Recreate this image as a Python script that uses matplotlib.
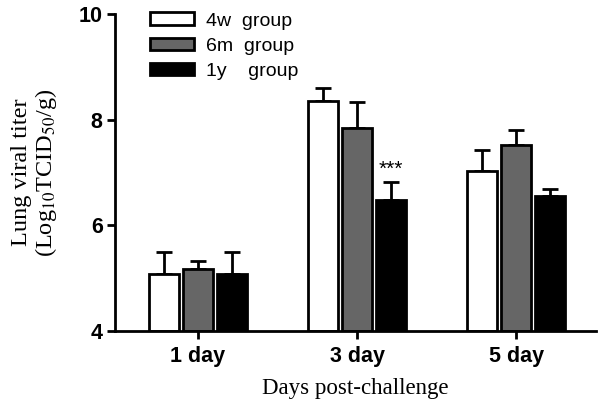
import numpy as np
import matplotlib.pyplot as plt

days = ["1 day", "3 day", "5 day"]
groups = ["4w  group", "6m  group", "1y    group"]
colors = ["white", "#666666", "black"]
means = [
    [5.08, 8.36, 7.03],
    [5.17, 7.84, 7.52],
    [5.08, 6.48, 6.56],
]
errs = [
    [0.42, 0.24, 0.40],
    [0.15, 0.50, 0.29],
    [0.42, 0.34, 0.13],
]

plt.rcParams['font.family'] = ['Liberation Sans', 'DejaVu Sans']

fig = plt.figure(figsize=(6, 4.12), dpi=100)
ax = fig.add_axes([0.192, 0.197, 0.801, 0.769])

x = np.arange(len(days))
width = 0.19
step = 0.214
for i in range(len(groups)):
    pos = x + (i - 1) * step
    ax.bar(pos, np.array(means[i]) - 4, width, bottom=4, color=colors[i],
           edgecolor="black", linewidth=2.0, label=groups[i], zorder=2)
    ax.errorbar(pos, means[i], yerr=[np.zeros(3), errs[i]], fmt="none",
                ecolor="black", elinewidth=2.0, capsize=6, capthick=2.0, zorder=1)

ax.text(x[1] + step, means[2][1] + errs[2][1] + 0.06, "***", ha="center",
        va="bottom", fontsize=15)

ax.set_xlim(-0.52, 2.50)
ax.set_ylim(4, 10)
ax.set_yticks([4, 6, 8, 10])
ax.set_xticks(x)
ax.set_xticklabels(days)
for lab in ax.get_xticklabels() + ax.get_yticklabels():
    lab.set_fontweight("bold")
    lab.set_fontsize(15.5)
ax.tick_params(width=2.0, length=6, pad=3)
ax.tick_params(axis="x", pad=5)
for s in ["top", "right"]:
    ax.spines[s].set_visible(False)
for s in ["left", "bottom"]:
    ax.spines[s].set_linewidth(2.0)

ax.set_ylabel("Lung viral titer\n(Log$_{10}$TCID$_{50}$/g)", family="Liberation Serif",
              fontsize=17.5, math_fontfamily="stix", labelpad=14, linespacing=1.05)
ax.set_xlabel("Days post-challenge", family="Liberation Serif", fontsize=16.5, labelpad=8)

ax.legend(loc="upper left", bbox_to_anchor=(0.035, 1.06), frameon=False, fontsize=14,
          handlelength=2.3, handleheight=0.6, labelspacing=0.42, handletextpad=0.6)

fig.savefig("out.png")
